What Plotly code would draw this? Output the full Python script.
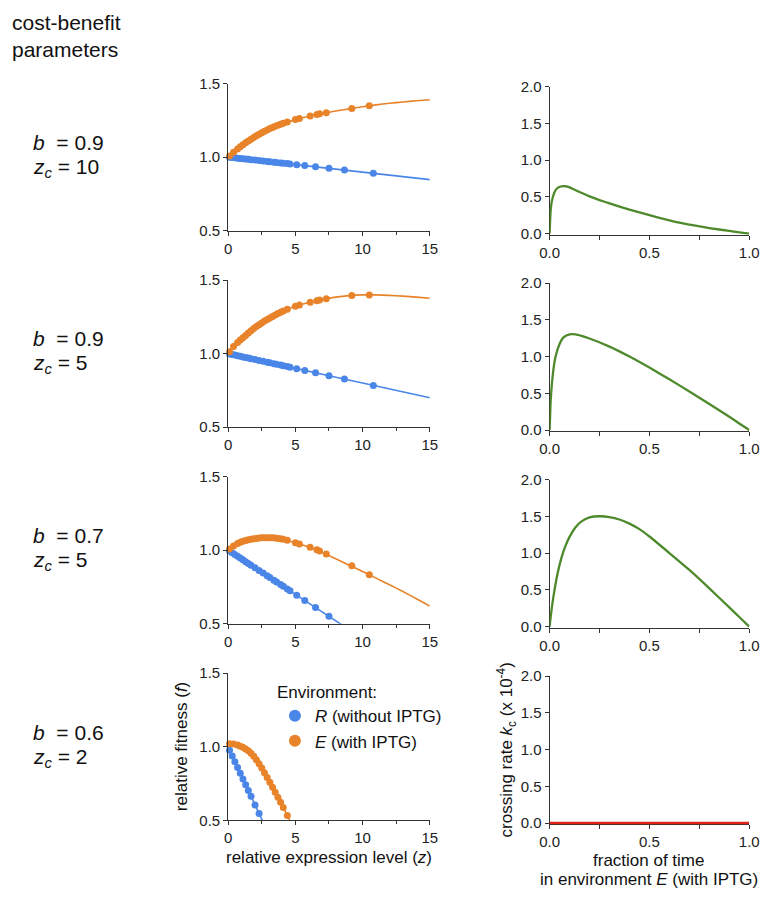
import plotly.graph_objects as go

W, H = 769, 897

# ---------------- data ----------------
param_b = ["0.9", "0.9", "0.7", "0.6"]
param_zc = ["10", "5", "5", "2"]

# expression levels of the measured strains
zR = [0.1, 0.3, 0.5, 0.7, 0.9, 1.1, 1.3, 1.5, 1.7, 2.0, 2.3, 2.6, 2.9, 3.1, 3.4, 3.6,
      3.9, 4.1, 4.4, 4.6, 5.1, 5.7, 6.5, 7.5, 8.65, 10.8]
zE = [0.1, 0.4, 0.7, 0.9, 1.1, 1.3, 1.5, 1.7, 1.9, 2.1, 2.3, 2.5, 2.7, 2.9, 3.1, 3.3,
      3.5, 3.7, 3.9, 4.1, 4.4, 5.0, 5.3, 6.1, 6.6, 6.8, 7.3, 9.2, 10.5]

# relative fitness of the strains in R (without IPTG)
fR_1 = [0.999, 0.997, 0.995, 0.993, 0.991, 0.989, 0.987, 0.985, 0.983, 0.980, 0.977, 0.974,
        0.971, 0.969, 0.966, 0.964, 0.961, 0.959, 0.956, 0.954, 0.949, 0.943, 0.935, 0.924,
        0.912, 0.890]
fR_2 = [0.998, 0.994, 0.990, 0.986, 0.982, 0.978, 0.974, 0.970, 0.966, 0.960, 0.954, 0.948,
        0.942, 0.938, 0.932, 0.928, 0.922, 0.918, 0.912, 0.908, 0.898, 0.886, 0.870, 0.850,
        0.827, 0.784]
fR_3 = [0.994, 0.982, 0.970, 0.958, 0.946, 0.934, 0.922, 0.910, 0.898, 0.880, 0.862, 0.844,
        0.826, 0.814, 0.796, 0.784, 0.766, 0.754, 0.736, 0.724, 0.694, 0.658, 0.610, 0.550,
        None, None]
fR_4 = [0.976, 0.937, 0.898, 0.859, 0.820, 0.781, 0.742, 0.703, 0.664, 0.605, 0.547, 0.495,
        None, None, None, None, None, None, None, None, None, None, None, None, None, None]

# relative fitness of the strains in E (with IPTG)
fE_1 = [1.008, 1.033, 1.056, 1.070, 1.084, 1.097, 1.110, 1.122, 1.134, 1.145, 1.156, 1.166,
        1.176, 1.185, 1.194, 1.202, 1.210, 1.217, 1.224, 1.230, 1.239, 1.255, 1.263, 1.280,
        1.290, 1.294, 1.302, 1.331, 1.350]
fE_2 = [1.012, 1.048, 1.076, 1.092, 1.108, 1.124, 1.140, 1.156, 1.171, 1.184, 1.197, 1.209,
        1.221, 1.232, 1.243, 1.253, 1.263, 1.272, 1.281, 1.290, 1.302, 1.322, 1.331, 1.350,
        1.360, 1.364, 1.373, 1.395, 1.399]
fE_3 = [1.008, 1.029, 1.045, 1.053, 1.060, 1.065, 1.070, 1.074, 1.077, 1.080, 1.082, 1.084,
        1.085, 1.085, 1.085, 1.084, 1.083, 1.080, 1.077, 1.074, 1.067, 1.050, 1.042, 1.019,
        1.002, 0.994, 0.973, 0.894, 0.833]
fE_4 = [1.020, 1.019, 1.012, 1.004, 0.996, 0.985, 0.972, 0.956, 0.936, 0.912, 0.884, 0.855,
        0.824, 0.791, 0.758, 0.724, 0.690, 0.656, 0.622, 0.587, 0.533,
        None, None, None, None, None, None, None, None]

# model curves (lines)
lineR_z = [[0, 5, 10, 15], [0, 5, 10, 15], [0, 5, 9], [0, 1, 2, 3]]
lineR_f = [[1.0, 0.949, 0.898, 0.847], [1.0, 0.90, 0.80, 0.70], [1.0, 0.70, 0.46],
           [0.995, 0.80, 0.605, 0.41]]
lineE_z = [[0, 0.5, 1, 1.5, 2, 3, 4, 5, 6, 7, 8, 9, 10, 11, 12, 13, 14, 15],
           [0, 0.25, 0.5, 1, 1.5, 2, 3, 4, 5, 6, 7, 8, 9, 10, 11, 12, 13, 14, 15],
           [0, 0.5, 1, 1.5, 2, 2.5, 3, 3.5, 4, 4.5, 5, 5.5, 6, 7, 8, 9, 10, 11, 12, 13, 14, 15],
           [0, 0.5, 1, 1.5, 2, 2.5, 3, 3.5, 4, 4.5, 5]]
lineE_f = [[1.0, 1.041, 1.077, 1.110, 1.140, 1.190, 1.227, 1.255, 1.278, 1.297, 1.313, 1.328,
            1.342, 1.355, 1.366, 1.375, 1.383, 1.390],
           [1.0, 1.03, 1.062, 1.10, 1.14, 1.178, 1.238, 1.290, 1.322, 1.348, 1.368, 1.384,
            1.394, 1.399, 1.399, 1.396, 1.391, 1.384, 1.376],
           [1.0, 1.035, 1.057, 1.070, 1.079, 1.084, 1.085, 1.083, 1.076, 1.064, 1.050, 1.037,
            1.022, 0.984, 0.942, 0.898, 0.855, 0.810, 0.765, 0.719, 0.670, 0.620],
           [1.02, 1.018, 1.0, 0.972, 0.925, 0.855, 0.775, 0.69, 0.605, 0.515, 0.42]]

# crossing rate kc (x 1e-4) vs fraction of time in E
frac = [
    [0, 0.005, 0.01, 0.02, 0.03, 0.045, 0.06, 0.08, 0.1, 0.15, 0.2, 0.25, 0.3, 0.4, 0.5,
     0.6, 0.7, 0.8, 0.9, 0.95, 1.0],
    [0, 0.005, 0.01, 0.02, 0.03, 0.05, 0.07, 0.1, 0.13, 0.16, 0.2, 0.3, 0.4, 0.5, 0.6,
     0.7, 0.8, 0.9, 0.95, 1.0],
    [0, 0.005, 0.01, 0.02, 0.04, 0.06, 0.08, 0.1, 0.13, 0.16, 0.2, 0.25, 0.3, 0.35, 0.4,
     0.45, 0.5, 0.6, 0.7, 0.8, 0.9, 0.95, 1.0],
    [0, 1.0],
]
kc = [
    [0, 0.30, 0.42, 0.53, 0.59, 0.63, 0.643, 0.643, 0.628, 0.565, 0.505, 0.455, 0.41, 0.325,
     0.25, 0.18, 0.12, 0.075, 0.035, 0.017, 0],
    [0, 0.38, 0.58, 0.84, 1.0, 1.17, 1.26, 1.30, 1.30, 1.28, 1.245, 1.135, 1.0, 0.85, 0.69,
     0.525, 0.355, 0.18, 0.09, 0],
    [0, 0.12, 0.23, 0.42, 0.72, 0.94, 1.10, 1.22, 1.35, 1.43, 1.485, 1.50, 1.489, 1.456,
     1.40, 1.325, 1.225, 1.0, 0.77, 0.52, 0.26, 0.13, 0],
    [0, 0],
]
kc_colors = ["#4e8a2c", "#4e8a2c", "#4e8a2c", "#e2231a"]

fR = [fR_1, fR_2, fR_3, fR_4]
fE = [fE_1, fE_2, fE_3, fE_4]

BLUE = "#4a86e8"
ORANGE = "#e8832a"
FONT = "Liberation Sans, Arial, Helvetica, sans-serif"
AX = "#333333"


def fx(px):
    return px / W


def fy(py):
    return 1 - py / H


fig = go.Figure()
layout = {}

LEFT_X = (224, 431)
RIGHT_X = (554, 759)
ROW_TOP = [76, 276.3, 476.6, 677]

for i in range(4):
    top = ROW_TOP[i]
    bot = top + 150
    xa_l, ya_l = 2 * i + 1, 2 * i + 1
    xa_r, ya_r = 2 * i + 2, 2 * i + 2
    xl = "x" if xa_l == 1 else f"x{xa_l}"
    yl = "y" if ya_l == 1 else f"y{ya_l}"
    xr, yr = f"x{xa_r}", f"y{ya_r}"

    common = dict(showline=True, linecolor=AX, linewidth=1, ticks="outside", ticklen=4,
                  tickwidth=1, tickcolor=AX, showgrid=False, zeroline=False,
                  tickfont=dict(family=FONT, size=15, color="#222"), fixedrange=True)

    layout["xaxis" if xa_l == 1 else f"xaxis{xa_l}"] = dict(
        domain=[fx(LEFT_X[0]), fx(LEFT_X[1])], range=[0, 15], anchor=yl,
        tickvals=[0, 5, 10, 15],
        minor=dict(tickvals=[2.5, 7.5, 12.5], ticks="outside", ticklen=3, tickcolor=AX),
        **common)
    layout["yaxis" if ya_l == 1 else f"yaxis{ya_l}"] = dict(
        domain=[fy(bot), fy(top)], range=[0.5, 1.5], anchor=xl,
        tickvals=[0.5, 1.0, 1.5], tickformat=".1f", **common)

    rtop, rbot = top + 3, bot + 4
    layout[f"xaxis{xa_r}"] = dict(
        domain=[fx(RIGHT_X[0]), fx(RIGHT_X[1])], range=[0, 1], anchor=yr,
        tickvals=[0, 0.5, 1.0], tickformat=".1f", layer="below traces",
        minor=dict(tickvals=[0.25, 0.75], ticks="outside", ticklen=4, tickcolor=AX),
        **common)
    layout[f"yaxis{ya_r}"] = dict(
        domain=[fy(rbot), fy(rtop)], range=[-0.015, 2.0], anchor=xr,
        tickvals=[0, 0.5, 1.0, 1.5, 2.0], tickformat=".1f", layer="below traces", **common)

    # lines
    fig.add_trace(go.Scatter(x=lineR_z[i], y=lineR_f[i], mode="lines",
                             line=dict(color=BLUE, width=1.6, shape="spline", smoothing=0.6),
                             xaxis=xl, yaxis=yl, showlegend=False, hoverinfo="skip"))
    fig.add_trace(go.Scatter(x=lineE_z[i], y=lineE_f[i], mode="lines",
                             line=dict(color=ORANGE, width=1.6, shape="spline", smoothing=0.6),
                             xaxis=xl, yaxis=yl, showlegend=False, hoverinfo="skip"))
    # dots
    fig.add_trace(go.Scatter(x=zR, y=fR[i], mode="markers",
                             marker=dict(color=BLUE, size=7),
                             xaxis=xl, yaxis=yl, cliponaxis=False,
                             name="<i>R</i> (without IPTG)", showlegend=(i == 3),
                             legendrank=1))
    fig.add_trace(go.Scatter(x=zE, y=fE[i], mode="markers",
                             marker=dict(color=ORANGE, size=7),
                             xaxis=xl, yaxis=yl, cliponaxis=False,
                             name="<i>E</i> (with IPTG)", showlegend=(i == 3),
                             legendrank=2))
    # crossing rate
    fig.add_trace(go.Scatter(x=frac[i], y=kc[i], mode="lines",
                             line=dict(color=kc_colors[i], width=2.3 if i < 3 else 3,
                                       shape="spline", smoothing=0.5),
                             xaxis=xr, yaxis=yr, showlegend=False, hoverinfo="skip"))

annotations = []
annotations.append(dict(x=0, y=fy(0), xref="paper", yref="paper", xanchor="left",
                        yanchor="top", showarrow=False, align="left",
                        text="cost-benefit<br>parameters",
                        font=dict(family=FONT, size=21, color="#111")))
for i in range(4):
    c = ROW_TOP[i] + 75
    annotations.append(dict(x=fx(22), y=fy(c - 15), xref="paper", yref="paper",
                            xanchor="left", yanchor="middle", showarrow=False,
                            text=f"<i>b</i>\u00a0\u00a0= {param_b[i]}",
                            font=dict(family=FONT, size=21, color="#111")))
    annotations.append(dict(x=fx(22), y=fy(c + 11), xref="paper", yref="paper",
                            xanchor="left", yanchor="middle", showarrow=False,
                            text=f"<i>z</i><sub><i>c</i></sub> = {param_zc[i]}",
                            font=dict(family=FONT, size=21, color="#111")))

# axis titles (bottom row)
annotations.append(dict(x=fx(327.5), y=fy(865), xref="paper", yref="paper",
                        xanchor="center", yanchor="middle", showarrow=False,
                        text="relative expression level (<i>z</i>)",
                        font=dict(family=FONT, size=17, color="#111")))
annotations.append(dict(x=fx(176), y=fy(752), xref="paper", yref="paper",
                        xanchor="center", yanchor="middle", showarrow=False, textangle=-90,
                        text="relative fitness (<i>f</i>)",
                        font=dict(family=FONT, size=17, color="#111")))
annotations.append(dict(x=fx(656.5), y=fy(868), xref="paper", yref="paper",
                        xanchor="center", yanchor="middle", showarrow=False,
                        text="fraction of time",
                        font=dict(family=FONT, size=17, color="#111")))
annotations.append(dict(x=fx(656.5), y=fy(887), xref="paper", yref="paper",
                        xanchor="center", yanchor="middle", showarrow=False,
                        text="in environment <i>E</i> (with IPTG)",
                        font=dict(family=FONT, size=17, color="#111")))
annotations.append(dict(x=fx(510), y=fy(755), xref="paper", yref="paper",
                        xanchor="center", yanchor="middle", showarrow=False, textangle=-90,
                        text="crossing rate <i>k</i><sub>c</sub> (x 10<sup>-4</sup>)",
                        font=dict(family=FONT, size=17, color="#111")))

fig.update_layout(
    width=W, height=H, autosize=False,
    margin=dict(l=0, r=0, t=0, b=0),
    paper_bgcolor="white", plot_bgcolor="white",
    annotations=annotations,
    legend=dict(x=fx(272), y=fy(680), xanchor="left", yanchor="top",
                bgcolor="rgba(0,0,0,0)", font=dict(family=FONT, size=17, color="#111"),
                title=dict(text="Environment:", side="top",
                           font=dict(family=FONT, size=17, color="#111")),
                tracegroupgap=0, itemsizing="constant"),
    **layout,
)

fig.write_html(
    "out.html",
    config={"displayModeBar": False},
    post_script="document.body.style.margin='0';document.body.style.overflow='hidden';",
)
